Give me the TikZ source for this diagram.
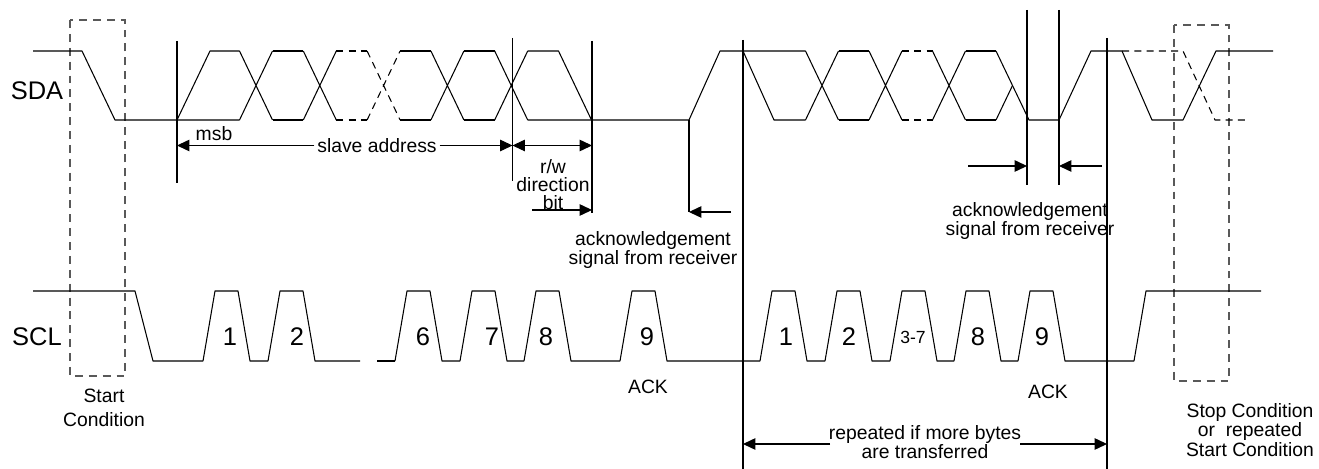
\documentclass[tikz,border=0pt]{standalone}
\usepackage{fontspec}
\setmainfont{Liberation Sans}
\usetikzlibrary{calc, arrows.meta, positioning}
\tikzset{
    wave/.style = {black, line width=0.6pt, line join=round},
    dashwave/.style = {wave, dash pattern=on 4pt off 3pt},
    marker/.style = {black, line width=0.6pt},
    condbox/.style = {draw=black!65, line width=0.6pt, dash pattern=on 4.5pt off 3.4pt},
    connect/.style = {black, line width=0.6pt, -{Triangle[length=7pt, width=6.5pt]}},
    dimline/.style = {connect, {Triangle[length=7pt, width=6.5pt]}-{Triangle[length=7pt, width=6.5pt]}},
    textnode/.style = {draw=none, fill=none, rectangle, inner sep=0em, align=center,
      font=\fontsize{11}{10.2}\selectfont},
    signode/.style = {draw=none, fill=none, inner sep=0em, font=\fontsize{14.5}{14.5}\selectfont},
    smallsignode/.style = {signode, font=\fontsize{10}{10}\selectfont}
}

\begin{document}
\begin{tikzpicture}[x=0.02cm, y=-0.02cm]
\useasboundingbox (0,0) rectangle (1319,469);

% signal names
\node[signode, name=sda] at (37,91) {SDA};
\node[signode, name=scl] at (37,337) {SCL};

% start and stop condition windows
\draw[condbox] (70,20) rectangle (125,376);
\draw[condbox] (1174,25) rectangle (1229,381);

% SDA: start condition and address byte
\draw[wave] (33,51) -- (82,51) -- (115,120) -- (239.5,120);
\draw[wave] (177,120) -- (210,51) -- (239.5,51);
\foreach \c/\s in {256/wave, 319.8/wave, 383.6/dashwave, 447.4/wave, 511.2/wave}
  \draw[\s] (\c-16.5,51) -- (\c+16.5,120) (\c-16.5,120) -- (\c+16.5,51);
\foreach \a/\b/\s in {256/319.8/wave, 319.8/383.6/dashwave, 383.6/447.4/wave, 447.4/511.2/wave}
  \draw[\s] (\a+16.5,51) -- (\b-16.5,51) (\a+16.5,120) -- (\b-16.5,120);
\draw[wave] (527.7,51) -- (558.5,51) -- (591.5,120);

% SDA: acknowledge, data byte, stop condition
\draw[wave] (527.7,120) -- (689,120) -- (720,51) -- (805.5,51);
\draw[wave] (743,51) -- (774,120) -- (805.5,120);
\foreach \c in {822, 885.5, 949}
  \draw[wave] (\c-16.5,51) -- (\c+16.5,120) (\c-16.5,120) -- (\c+16.5,51);
\foreach \a/\b/\s in {822/885.5/wave, 885.5/949/dashwave, 949/1012.5/wave}
  \draw[\s] (\a+16.5,51) -- (\b-16.5,51) (\a+16.5,120) -- (\b-16.5,120);
\draw[wave] (996,120) -- (1012.5,85.5);
\draw[wave] (996,51) -- (1029,120) -- (1059,120) -- (1091,51) -- (1122,51) -- (1152,120)
  -- (1183,120) -- (1216,51) -- (1273,51);
\draw[dashwave] (1122,51) -- (1183,51) -- (1215,120) -- (1248,120);

% SCL
\draw[wave] (33,291) -- (135,291) -- (153,361) -- (203,361);
\foreach \r/\n in {203/268, 268/360, 395/460, 460/524, 524/620, 620/760, 760/825,
  825/890, 890/954, 954/1018, 1018/1134}
  \draw[wave] (\r,361) -- ++(12,-70) -- ++(23,0) -- ++(12,70) -- (\n,361);
\draw[wave] (377,361) -- (395,361);
\draw[wave] (1134,361) -- (1146,291) -- (1261,291);

% clock numbers
\foreach \x/\t in {230/1, 297/2, 423/6, 492/7, 546/8, 647/9, 786/1, 849/2, 978/8, 1042/9}
  \node[signode, name=bit\x] at (\x,337) {\t};
\node[smallsignode, name=bitmid] at (913,337) {3-7};

% marker lines
\coordinate (addrstart top) at (177,41);   \coordinate (addrstart bot) at (177,183);
\coordinate (rwstart top) at (512.5,38);   \coordinate (rwstart bot) at (512.5,181);
\coordinate (rwend top) at (592,41);       \coordinate (rwend bot) at (592,213);
\coordinate (ackone top) at (689,120);     \coordinate (ackone bot) at (689,212);
\coordinate (bytestart top) at (743,40);   \coordinate (bytestart bot) at (743,469);
\coordinate (acktwol top) at (1027,10);    \coordinate (acktwol bot) at (1027,185);
\coordinate (acktwor top) at (1059,10);    \coordinate (acktwor bot) at (1059,185);
\coordinate (byteend top) at (1107,38);    \coordinate (byteend bot) at (1107,469);
\foreach \n in {addrstart, rwstart, rwend, ackone, bytestart, acktwol, acktwor, byteend}
  \draw[marker] (\n\space top) -- (\n\space bot);

% address and r/w bit
\node[textnode, name=msb] at (214,134) {msb};
\node[textnode, name=addr, inner sep=0.15em] at (377,145.5) {slave address};
\draw[connect] (addr.west) -- (addr.west -| addrstart top);
\draw[connect] (addr.east) -- (addr.east -| rwstart top);
\draw[dimline] (addr.east -| rwstart top) -- (addr.east -| rwend top);
\node[textnode, name=rwtext] at (553,185) {r/w\\direction\\bit};
\coordinate (bitfrom) at (532,210);
\draw[connect] (bitfrom) -- (bitfrom -| rwend top);

% acknowledge after address
\coordinate (ackonefrom) at (731,212);
\draw[connect] (ackonefrom) -- (ackonefrom -| ackone top);
\node[textnode, name=ackonetext, font=\fontsize{11}{11.3}\selectfont] at (653,250)
  {acknowledgement\\signal from receiver};
\node[textnode, name=ackonelabel] at (648,387) {ACK};

% acknowledge after data byte
\coordinate (acktwofrom) at (968,166);
\coordinate (acktwoback) at (1102,166);
\draw[connect] (acktwofrom) -- (acktwofrom -| acktwol top);
\draw[connect] (acktwoback) -- (acktwoback -| acktwor top);
\node[textnode, name=acktwotext] at (1030,221) {acknowledgement\\signal from receiver};
\node[textnode, name=acktwolabel] at (1048,392) {ACK};

% repeated bytes
\node[textnode, name=reptext] at (925,442) {repeated if more bytes\\are transferred};
\coordinate (repfrom) at (830,444);
\coordinate (repto) at (1020,444);
\draw[connect] (repfrom) -- (repfrom -| bytestart top);
\draw[connect] (repto) -- (repto -| byteend top);

% conditions
\node[textnode, name=starttext] at (104,408) {Start\\[3.5pt]Condition};
\node[textnode, name=stoptext] at (1250,430) {Stop Condition\\or~ repeated\\Start Condition};
\end{tikzpicture}
\end{document}
